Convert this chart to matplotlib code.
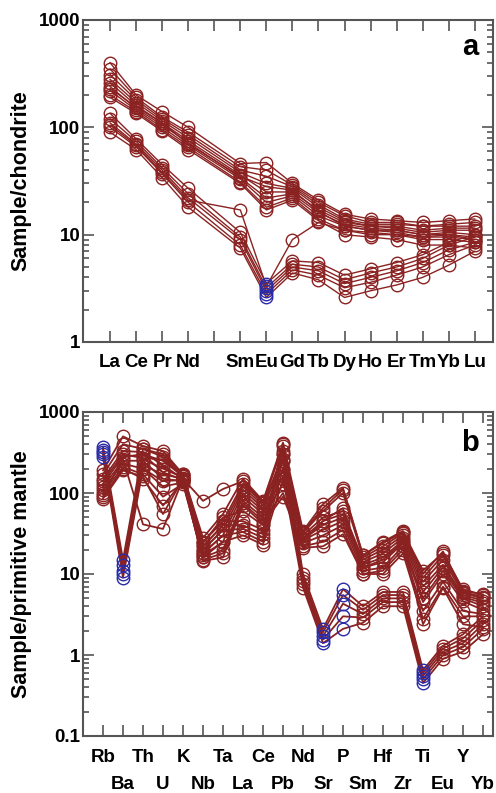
import matplotlib
matplotlib.use('Agg')
import matplotlib.pyplot as plt
from matplotlib.ticker import FixedLocator, FuncFormatter, LogLocator, NullFormatter

plt.rcParams['font.family'] = ['Liberation Sans', 'DejaVu Sans']
plt.rcParams['font.weight'] = 'bold'

BROWN = '#8b2222'
BLUE = '#2b2ba6'
FRAME = '#555555'

# --- chondrite-normalised REE (Pm left blank on the axis) ---
ree_ticks = ['La', 'Ce', 'Pr', 'Nd', '', 'Sm', 'Eu', 'Gd', 'Tb', 'Dy', 'Ho', 'Er', 'Tm', 'Yb', 'Lu']
ree_elems = ['La', 'Ce', 'Pr', 'Nd', 'Sm', 'Eu', 'Gd', 'Tb', 'Dy', 'Ho', 'Er', 'Tm', 'Yb', 'Lu']

ree_high = [
    [400, 200, 140, 100, 46, 47, 30, 21, 15.5, 14, 13.5, 13, 13.5, 14],
    [350, 190, 125, 90, 43, 40, 29, 20, 15, 13, 13, 12, 12.5, 13],
    [310, 180, 120, 85, 40, 35, 28, 19, 14, 12.5, 12.5, 12, 12, 12],
    [280, 170, 115, 80, 38, 30, 27, 18, 13.5, 12, 12, 11, 11.5, 11.5],
    [260, 160, 110, 75, 36, 25, 25, 17, 13, 12, 11.5, 10.5, 11, 11],
    [240, 150, 105, 72, 34, 22, 24, 16, 12.5, 11.5, 11, 10, 10.5, 10],
    [220, 145, 100, 68, 33, 20, 23, 15, 12, 11, 10.5, 9.5, 10, 9.5],
    [200, 140, 95, 65, 31, 18, 22, 14, 11, 10.5, 10, 9, 9, 8.5],
    [190, 135, 92, 62, 30, 17, 21, 13.5, 10, 9.5, 9, 8, 8, 7.5],
    [230, 155, 110, 70, 35, 28, 26, 16.5, 12, 11, 11, 10, 10, 9],
]
ree_low = [
    [135, 78, 45, 27, 10.5, 3.5, 5.7, 5.5, 4.2, 4.8, 5.5, 6.5, 8.5, 10],
    [120, 74, 42, 24, 9.5, 3.2, 5.3, 5.0, 3.8, 4.4, 5.0, 6.0, 8.0, 9.5],
    [110, 70, 40, 22, 9, 3.0, 5.0, 4.6, 3.5, 4.0, 4.6, 5.5, 7.2, 8.5],
    [100, 66, 37, 20, 8, 2.8, 4.7, 4.2, 3.2, 3.6, 4.2, 5.0, 6.5, 8],
    [90, 62, 34, 18, 7.5, 2.6, 4.4, 3.8, 2.6, 3.0, 3.4, 4.0, 5.2, 7],
    [105, 68, 38, 21, 17, 3.3, 9, 13, 11, 10, 10, 9.5, 9.5, 9],
]
ree_blue = ['Eu']

# --- primitive-mantle-normalised trace elements ---
te_elems = ['Rb', 'Ba', 'Th', 'U', 'K', 'Nb', 'Ta', 'La', 'Ce', 'Pb',
            'Nd', 'Sr', 'P', 'Sm', 'Hf', 'Zr', 'Ti', 'Eu', 'Y', 'Yb']

te_high = [
    [190, 500, 380, 330, 170, 28, 55, 150, 80, 420, 34, 73, 115, 17, 25, 34, 10, 19, 6.2, 5.6],
    [170, 400, 350, 280, 160, 25, 45, 130, 75, 380, 32, 60, 100, 16, 22, 32, 9, 17, 6.0, 5.2],
    [150, 330, 320, 220, 150, 22, 40, 120, 70, 300, 30, 50, 60, 15, 20, 30, 8, 15, 5.8, 5.0],
    [130, 280, 300, 180, 145, 20, 35, 110, 65, 250, 28, 45, 55, 14, 18, 28, 7, 13, 5.5, 4.7],
    [120, 250, 250, 150, 140, 18, 30, 100, 60, 200, 27, 40, 50, 13, 16, 26, 6, 12, 5.2, 4.4],
    [110, 230, 200, 120, 135, 17, 25, 90, 55, 160, 26, 35, 45, 12, 14, 24, 5, 11, 5.0, 4.0],
    [100, 210, 170, 90, 130, 16, 20, 80, 50, 130, 24, 30, 40, 11, 12, 22, 4.5, 10, 4.6, 3.6],
    [90, 200, 150, 70, 140, 15, 18, 75, 45, 100, 22, 25, 35, 10, 11, 20, 3.5, 8, 3.5, 3.2],
    [85, 190, 160, 55, 150, 14.5, 16, 70, 42, 90, 21, 22, 31, 10, 10, 18, 2.8, 7, 3.0, 3.0],
    [95, 260, 41, 36, 150, 80, 112, 140, 78, 250, 33, 65, 110, 17, 24, 33, 11, 18, 6.5, 5.5],
    [140, 300, 270, 260, 165, 24, 50, 60, 40, 300, 25, 45, 65, 12, 15, 25, 2.4, 6.7, 2.4, 2.2],
]
te_low = [
    [370, 15, 350, 300, 170, 25, 45, 45, 35, 400, 10, 2.1, 6.5, 4.0, 6.0, 6.0, 0.65, 1.3, 1.8, 3.0],
    [340, 13, 300, 250, 160, 22, 40, 40, 31, 330, 9, 1.9, 5.5, 3.6, 5.5, 5.5, 0.6, 1.2, 1.6, 2.7],
    [320, 11, 260, 200, 155, 20, 35, 36, 28, 260, 8.3, 1.7, 4.3, 3.2, 5.0, 5.0, 0.55, 1.1, 1.4, 2.4],
    [300, 10, 220, 170, 150, 18, 30, 33, 25, 200, 7.5, 1.55, 3.0, 2.9, 4.5, 4.5, 0.5, 1.0, 1.25, 2.1],
    [280, 9, 200, 140, 145, 16, 25, 30, 23, 150, 6.8, 1.4, 2.1, 2.5, 4.0, 4.0, 0.45, 0.9, 1.1, 1.8],
]
te_blue = ['Rb', 'Ba', 'Sr', 'P', 'Ti']


def draw_samples(ax, xs, rows, blue_idx, lw):
    for vals in rows:
        keep = [i for i in range(len(xs)) if i not in blue_idx]
        ax.plot(xs, vals, color=BROWN, lw=lw, marker='o', ms=9, mfc='none',
                mec=BROWN, mew=1.0, markevery=keep, zorder=2)
        if blue_idx:
            ax.plot([xs[i] for i in blue_idx], [vals[i] for i in blue_idx],
                    ls='none', marker='o', ms=9, mfc='none', mec=BLUE,
                    mew=1.0, zorder=3)


def style_axes(ax, ymin, ymax):
    ax.set_yscale('log')
    ax.set_ylim(ymin, ymax)
    ax.yaxis.set_major_locator(LogLocator(base=10, numticks=10))
    ax.yaxis.set_minor_locator(LogLocator(base=10, subs=range(2, 10), numticks=20))
    ax.yaxis.set_minor_formatter(NullFormatter())
    ax.yaxis.set_major_formatter(FuncFormatter(lambda v, p: f'{v:g}'))
    for s in ax.spines.values():
        s.set_linewidth(1.5)
        s.set_color(FRAME)
    ax.tick_params(which='both', direction='in', top=True, right=True,
                   color=FRAME, width=1.2, labelsize=13.5)
    ax.tick_params(which='major', length=8)
    ax.tick_params(which='minor', length=4.5)
    ax.tick_params(axis='y', pad=2)
    ax.tick_params(axis='x', pad=9)
    ax.xaxis.set_minor_locator(FixedLocator([]))


fig = plt.figure(figsize=(4.96, 7.93), dpi=100)
ax_a = fig.add_axes([83 / 496, 1 - 342 / 793, 410 / 496, 322 / 793])
ax_b = fig.add_axes([83 / 496, 1 - 736 / 793, 410 / 496, 324 / 793])

# Panel a: REE pattern
ree_x = [ree_ticks.index(e) for e in ree_elems]
ree_blue_idx = [ree_elems.index(e) for e in ree_blue]
draw_samples(ax_a, ree_x, ree_high, [], 1.0)
draw_samples(ax_a, ree_x, ree_low, ree_blue_idx, 1.0)
style_axes(ax_a, 1, 1000)
ax_a.set_xlim(-1.04, 14.7)
ax_a.set_xticks(range(len(ree_ticks)))
ax_a.set_xticklabels(ree_ticks)
ax_a.set_ylabel('Sample/chondrite', fontsize=15.5, fontweight='bold')
ax_a.yaxis.set_label_coords(-0.125, 0.5)
ax_a.text(0.965, 0.915, 'a', transform=ax_a.transAxes, ha='right', va='center',
          fontsize=21, fontweight='bold')

# Panel b: spider diagram, labels staggered on two rows
te_x = list(range(len(te_elems)))
te_blue_idx = [te_elems.index(e) for e in te_blue]
draw_samples(ax_b, te_x, te_high, [], 1.3)
draw_samples(ax_b, te_x, te_low, te_blue_idx, 1.3)
style_axes(ax_b, 0.1, 1000)
ax_b.set_xlim(-1.0, 19.5)
ax_b.set_xticks(te_x[0::2])
ax_b.set_xticklabels(te_elems[0::2])
ax_b.set_xticks(te_x[1::2], minor=True)
ax_b.set_xticklabels(te_elems[1::2], minor=True)
ax_b.tick_params(axis='x', which='minor', length=8, pad=29, labelsize=13.5)
ax_b.set_ylabel('Sample/primitive mantle', fontsize=15.5, fontweight='bold')
ax_b.yaxis.set_label_coords(-0.125, 0.5)
ax_b.text(0.965, 0.905, 'b', transform=ax_b.transAxes, ha='right', va='center',
          fontsize=21, fontweight='bold')

fig.savefig('out.png', dpi=100)
